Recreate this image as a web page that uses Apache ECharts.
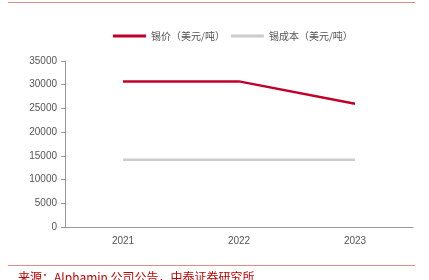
<!DOCTYPE html>
<html><head><meta charset="utf-8">
<script src="https://cdn.jsdelivr.net/npm/echarts@6/dist/echarts.min.js"></script>
<style>html,body{margin:0;padding:0;background:#fff}#c{width:429px;height:280px}</style>
</head><body><div id="c"></div>
<script>
const categories = ['2021', '2022', '2023'];
const priceName = '锡价（美元/吨）';
const costName = '锡成本（美元/吨）';
const priceValues = [30700, 30700, 26000];
const costValues = [14200, 14200, 14200];
const yTicks = [0, 5000, 10000, 15000, 20000, 25000, 30000, 35000];
const sourceText = '来源：Alphamin 公司公告，中泰证券研究所';

const chart = echarts.init(document.getElementById('c'), null, {renderer: 'canvas'});
chart.setOption({
  animation: false,
  backgroundColor: '#fff',
  textStyle: {fontFamily: '"Liberation Sans", "Noto Sans CJK SC", sans-serif'},
  legend: {
    left: 108, top: 26, itemWidth: 33, itemHeight: 3, itemGap: 6,
    icon: 'rect',
    textStyle: {fontSize: 10, color: '#555', fontFamily: '"Noto Sans CJK SC", sans-serif'},
    data: [priceName, costName]
  },
  grid: {left: 65, right: 16, top: 61, bottom: 53},
  xAxis: {
    type: 'category', data: categories, boundaryGap: true,
    axisLine: {lineStyle: {color: '#999'}},
    axisTick: {inside: true, length: 3, lineStyle: {color: '#999'}},
    axisLabel: {color: '#555', fontSize: 10, margin: 9}
  },
  yAxis: {
    type: 'value', min: yTicks[0], max: yTicks[yTicks.length - 1], interval: 5000,
    axisLine: {show: true, lineStyle: {color: '#999'}},
    axisTick: {show: true, length: 4, lineStyle: {color: '#999'}},
    axisLabel: {color: '#555', fontSize: 10, margin: 8, formatter: v => String(v)},
    splitLine: {show: false}
  },
  series: [
    {name: priceName, type: 'line', data: priceValues, symbol: 'none',
     lineStyle: {color: '#C0002A', width: 2.5}, itemStyle: {color: '#C0002A'}},
    {name: costName, type: 'line', data: costValues, symbol: 'none',
     lineStyle: {color: '#CCCCCC', width: 2.5}, itemStyle: {color: '#CCCCCC'}}
  ],
  graphic: [
    {type: 'line', shape: {x1: 8, y1: 2.5, x2: 415, y2: 2.5}, style: {stroke: '#E88A8A', lineWidth: 1}},
    {type: 'line', shape: {x1: 8, y1: 265.5, x2: 415, y2: 265.5}, style: {stroke: '#E88A8A', lineWidth: 1}},
    {type: 'text', left: 18, top: 271, style: {text: sourceText, fill: '#C00000', fontSize: 12, fontFamily: '"Noto Sans CJK SC", sans-serif'}}
  ]
});
</script></body></html>
